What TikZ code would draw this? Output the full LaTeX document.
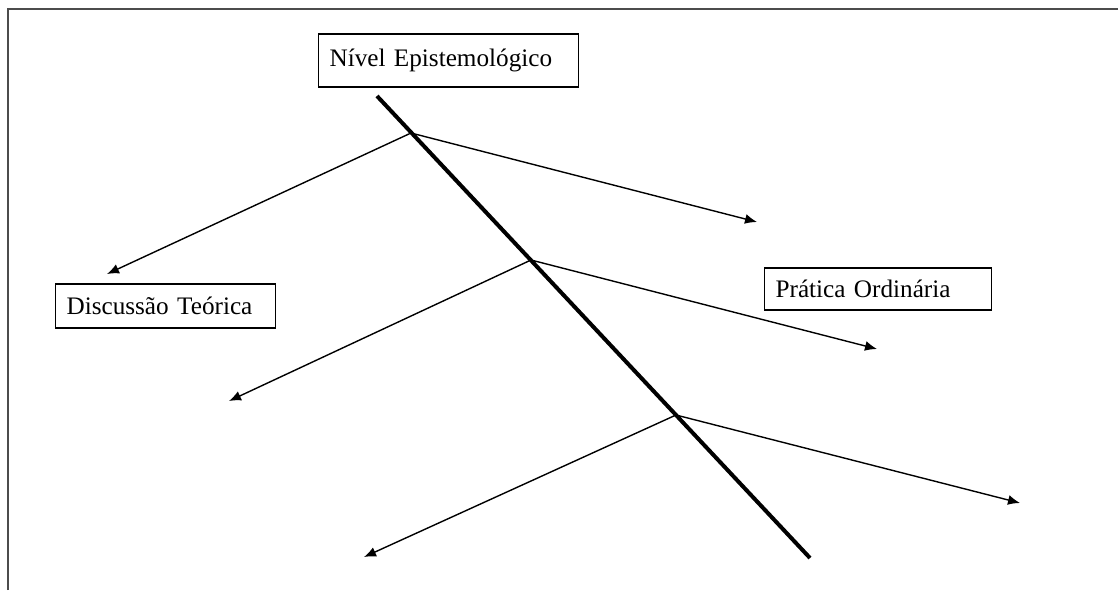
\documentclass[tikz,border=0pt]{standalone}
\usepackage{fontspec}
\setmainfont{Liberation Serif}
\usetikzlibrary{arrows.meta}

\begin{document}
\begin{tikzpicture}[x=0.5pt, y=-0.5pt,
    levelbox/.style={rectangle, draw, line width=0.6pt, anchor=west, align=left, inner xsep=5.5pt, font=\fontsize{12.6}{15}\selectfont},
    branch/.style={-{Latex[length=6pt,width=5pt]}, line width=0.7pt},
    spine/.style={line width=2pt}]
    \useasboundingbox (0,0) rectangle (1118,590);
    \draw[line width=1pt, black!70] (8,590) -- (8,9) -- (1118,9);

    \node (epist) [levelbox, text width=119pt, minimum height=26.5pt] at (318,60.5) {Nível Epistemológico};
    \node (teoria) [levelbox, text width=99pt, minimum height=22pt] at (55,306) {Discussão Teórica};
    \node (pratica) [levelbox, text width=102.5pt, minimum height=21pt] at (764,289) {Prática Ordinária};

    % eixo central
    \coordinate (top) at (377,96);
    \coordinate (bottom) at (810,558);
    \draw[spine] (top) -- (bottom);

    % pontos de ramificacao
    \coordinate (b1) at (411,133);
    \coordinate (b2) at (531,260);
    \coordinate (b3) at (676,415);
    \coordinate (l1) at (107,274);
    \coordinate (r1) at (757,222);
    \coordinate (l2) at (229,401);
    \coordinate (r2) at (877,349);
    \coordinate (l3) at (364,557);
    \coordinate (r3) at (1020,503);

    \draw[branch] (b1) -- (l1);
    \draw[branch] (b1) -- (r1);
    \draw[branch] (b2) -- (l2);
    \draw[branch] (b2) -- (r2);
    \draw[branch] (b3) -- (l3);
    \draw[branch] (b3) -- (r3);
\end{tikzpicture}
\end{document}
